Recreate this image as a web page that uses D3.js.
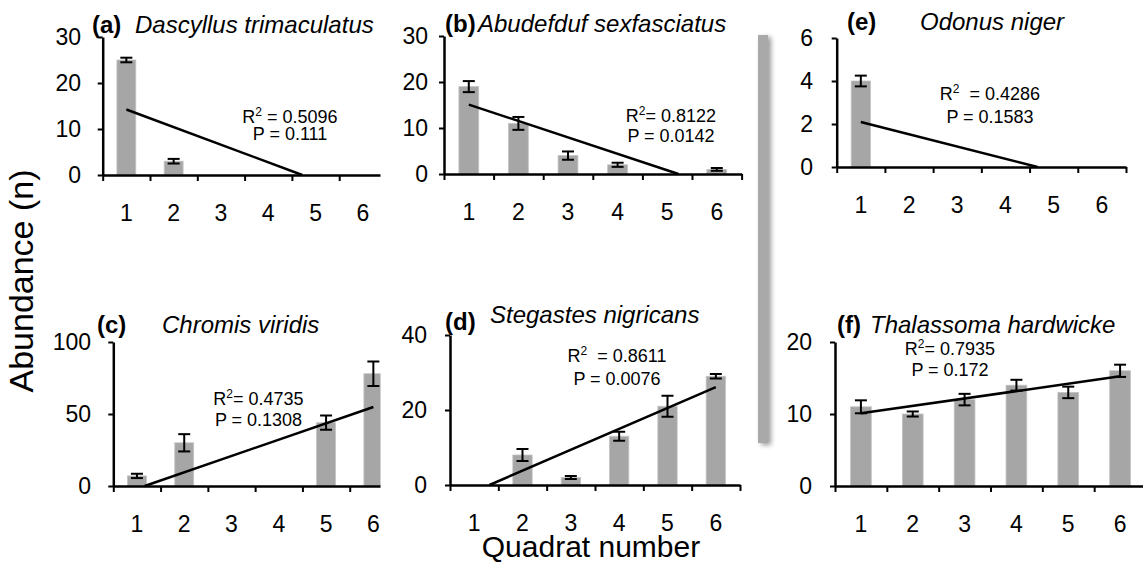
<!DOCTYPE html>
<html>
<head>
<meta charset="utf-8">
<script src="https://cdn.jsdelivr.net/npm/d3@7"></script>
<style>
  body { margin: 0; background: #fff; }
  svg { font-family: "Liberation Sans", Arial, Helvetica, sans-serif; }
  .stat { white-space: pre; }
</style>
</head>
<body>
<div id="chart"></div>
<script>
// quadrat numbers (x categories)
var quadrats = [1, 2, 3, 4, 5, 6];

// mean abundance per quadrat and its error
var dascyllus = [25, 3, 0, 0, 0, 0];
var dascyllusErr = [0.5, 0.5, 0, 0, 0, 0];
var abudefduf = [19, 11, 4, 2, 0, 1];
var abudefdufErr = [1.2, 1.4, 0.9, 0.45, 0, 0.3];
var odonus = [4, 0, 0, 0, 0, 0];
var odonusErr = [0.25, 0, 0, 0, 0, 0];
var chromis = [7, 30, 0, 0, 44, 78];
var chromisErr = [1.5, 6, 0, 0, 5, 8.5];
var stegastes = [0, 8, 2, 13, 21, 29];
var stegastesErr = [0, 1.6, 0.4, 1.2, 2.8, 0.6];
var thalassoma = [11, 10, 12, 14, 13, 16];
var thalassomaErr = [0.9, 0.35, 0.8, 0.75, 0.8, 0.85];

var panelTags = ["(a)", "(b)", "(e)", "(c)", "(d)", "(f)"];
var speciesNames = ["Dascyllus trimaculatus", "Abudefduf sexfasciatus", "Odonus niger",
  "Chromis viridis", "Stegastes nigricans", "Thalassoma hardwicke"];
var r2Labels = ["R² = 0.5096", "R²= 0.8122", "R²  = 0.4286", "R²= 0.4735", "R²  = 0.8611", "R²= 0.7935"];
var pLabels = ["P = 0.111", "P = 0.0142", "P = 0.1583", "P = 0.1308", "P = 0.0076", "P = 0.172"];
var yTicks = [[0, 10, 20, 30], [0, 10, 20, 30], [0, 2, 4, 6], [0, 50, 100], [0, 20, 40], [0, 10, 20]];

var seriesValues = [dascyllus, abudefduf, odonus, chromis, stegastes, thalassoma];
var seriesErrors = [dascyllusErr, abudefdufErr, odonusErr, chromisErr, stegastesErr, thalassomaErr];

// where each panel sits on the page
var layout = [
  { x0: 102.7, x1: 386.5, y0: 175, y1: 37, clip: 380.5, tickRight: 81, tag: [92, 33], title: [135, 33], stat: [290, 123, 140] },
  { x0: 444, x1: 741.6, y0: 174, y1: 36, clip: null, tickRight: 428, tag: [445, 31.5], title: [478, 31.5], stat: [671, 122, 142] },
  { x0: 836.7, x1: 1126, y0: 167, y1: 38, clip: null, tickRight: 813, tag: [847, 30], title: [920, 30], stat: [990, 100, 123] },
  { x0: 113.3, x1: 397, y0: 486, y1: 342, clip: 380.5, tickRight: 91, tag: [97, 333], title: [162, 333], stat: [258.5, 405, 426] },
  { x0: 450, x1: 740, y0: 485, y1: 335, clip: null, tickRight: 427, tag: [445, 330], title: [490, 323], stat: [617, 362, 385] },
  { x0: 835, x1: 1146, y0: 486, y1: 342, clip: null, tickRight: 812, tag: [837, 333], title: [870, 333], stat: [950, 355, 376] }
];

var width = 1143, height = 564;

var svg = d3.select("#chart")
  .append("svg")
  .attr("width", width)
  .attr("height", height);

var defs = svg.append("defs");
var shadow = defs.append("filter").attr("id", "shade")
  .attr("x", "-100%").attr("y", "-10%").attr("width", "300%").attr("height", "120%");
shadow.append("feGaussianBlur").attr("in", "SourceAlpha").attr("stdDeviation", 2.5).attr("result", "blur");
shadow.append("feOffset").attr("in", "blur").attr("dx", 3).attr("dy", 2).attr("result", "off");
shadow.append("feComponentTransfer").attr("in", "off").attr("result", "soft")
  .append("feFuncA").attr("type", "linear").attr("slope", 0.4);
var merge = shadow.append("feMerge");
merge.append("feMergeNode").attr("in", "soft");
merge.append("feMergeNode").attr("in", "SourceGraphic");

// the grey divider between the columns
svg.append("rect")
  .attr("x", 758).attr("y", 35)
  .attr("width", 10).attr("height", 408)
  .attr("fill", "#a9a9a9")
  .attr("filter", "url(#shade)");

function fitLine(ys) {
  var mx = d3.mean(quadrats), my = d3.mean(ys);
  var sxy = d3.sum(quadrats, function (x, i) { return (x - mx) * (ys[i] - my); });
  var sxx = d3.sum(quadrats, function (x) { return (x - mx) * (x - mx); });
  var slope = sxy / sxx;
  return { slope: slope, intercept: my - slope * mx };
}

layout.forEach(function (L, p) {
  var values = seriesValues[p], errs = seriesErrors[p], ticks = yTicks[p];

  var g = svg.append("g");
  if (L.clip) {
    defs.append("clipPath").attr("id", "clip" + p)
      .append("rect").attr("x", 0).attr("y", 0).attr("width", L.clip).attr("height", height);
    g.attr("clip-path", "url(#clip" + p + ")");
  }

  var x = d3.scaleBand().domain(quadrats).range([L.x0, L.x1]).paddingInner(0.6).paddingOuter(0.3);
  var xLin = d3.scaleLinear().domain([0.5, 6.5]).range([L.x0, L.x1]);
  var y = d3.scaleLinear().domain([0, d3.max(ticks)]).range([L.y0, L.y1]);

  // bars
  g.selectAll(".bar")
    .data(values)
    .enter()
    .append("rect")
    .attr("class", "bar")
    .attr("x", function (d, i) { return x(quadrats[i]); })
    .attr("y", function (d) { return y(d); })
    .attr("width", x.bandwidth())
    .attr("height", function (d) { return L.y0 - y(d); })
    .attr("fill", "#a6a6a6")
    .attr("stroke", "#c4c4c4")
    .attr("stroke-width", 0.8);

  // error bars
  var eb = g.selectAll(".err")
    .data(values.map(function (v, i) { return { v: v, e: errs[i], q: quadrats[i] }; })
      .filter(function (d) { return d.e > 0; }))
    .enter()
    .append("g")
    .attr("class", "err")
    .attr("stroke", "#000")
    .attr("stroke-width", 2);
  eb.append("line")
    .attr("x1", function (d) { return xLin(d.q); })
    .attr("x2", function (d) { return xLin(d.q); })
    .attr("y1", function (d) { return y(d.v - d.e); })
    .attr("y2", function (d) { return y(d.v + d.e); });
  eb.append("line")
    .attr("x1", function (d) { return xLin(d.q) - 6; })
    .attr("x2", function (d) { return xLin(d.q) + 6; })
    .attr("y1", function (d) { return y(d.v - d.e); })
    .attr("y2", function (d) { return y(d.v - d.e); });
  eb.append("line")
    .attr("x1", function (d) { return xLin(d.q) - 6; })
    .attr("x2", function (d) { return xLin(d.q) + 6; })
    .attr("y1", function (d) { return y(d.v + d.e); })
    .attr("y2", function (d) { return y(d.v + d.e); });

  // x axis: boundary ticks
  var xAxis = g.append("g")
    .attr("transform", "translate(0," + L.y0 + ")")
    .call(d3.axisBottom(xLin).tickValues(d3.range(0.5, 7, 1)).tickSize(6).tickSizeOuter(0).tickFormat(""));
  xAxis.select(".domain").attr("stroke-width", 2.5);
  xAxis.selectAll(".tick line").attr("stroke-width", 2);

  // x labels
  g.selectAll(".xlab")
    .data(quadrats)
    .enter()
    .append("text")
    .attr("class", "xlab")
    .attr("x", function (d) { return xLin(d); })
    .attr("y", L.y0 + 46)
    .attr("text-anchor", "middle")
    .attr("font-size", 23)
    .text(function (d) { return d; });

  // y axis
  var yAxis = g.append("g")
    .attr("transform", "translate(" + L.x0 + ",0)")
    .call(d3.axisLeft(y).tickValues(ticks).tickSize(5).tickSizeOuter(0)
      .tickPadding(L.x0 - L.tickRight - 5).tickFormat(d3.format("d")));
  yAxis.select(".domain").attr("stroke-width", 2.5);
  yAxis.selectAll(".tick line").attr("stroke-width", 2);
  yAxis.selectAll("text").attr("font-size", 23).attr("font-family", null).attr("fill", "#000");

  // trend line, kept above zero
  var fit = fitLine(values);
  var xa = 1, xb = 6;
  var ya = fit.intercept + fit.slope * xa, yb = fit.intercept + fit.slope * xb;
  if (ya < 0) { xa = -fit.intercept / fit.slope; ya = 0; }
  if (yb < 0) { xb = -fit.intercept / fit.slope; yb = 0; }
  g.append("line")
    .attr("x1", xLin(xa)).attr("y1", y(ya))
    .attr("x2", xLin(xb)).attr("y2", y(yb))
    .attr("stroke", "#000")
    .attr("stroke-width", 2.5);

  // panel title
  g.append("text")
    .attr("x", L.tag[0]).attr("y", L.tag[1])
    .attr("font-size", 24).attr("font-weight", "bold")
    .text(panelTags[p]);
  g.append("text")
    .attr("x", L.title[0]).attr("y", L.title[1])
    .attr("font-size", 24).attr("font-style", "italic")
    .text(speciesNames[p]);

  // statistics
  var parts = r2Labels[p].split("²");
  var r2 = g.append("text")
    .attr("class", "stat")
    .attr("x", L.stat[0]).attr("y", L.stat[1])
    .attr("text-anchor", "middle")
    .attr("font-size", 18);
  r2.append("tspan").text(parts[0]);
  r2.append("tspan").attr("font-size", 12).attr("dy", -7).text("2");
  r2.append("tspan").attr("dy", 7).text(parts[1]);
  g.append("text")
    .attr("class", "stat")
    .attr("x", L.stat[0]).attr("y", L.stat[2])
    .attr("text-anchor", "middle")
    .attr("font-size", 18)
    .text(pLabels[p]);
});

// axis titles
svg.append("text")
  .attr("transform", "translate(33,281) rotate(-90)")
  .attr("text-anchor", "middle")
  .attr("font-size", 34)
  .text("Abundance (n)");
svg.append("text")
  .attr("x", 591).attr("y", 557)
  .attr("text-anchor", "middle")
  .attr("font-size", 30)
  .text("Quadrat number");
</script>
</body>
</html>
